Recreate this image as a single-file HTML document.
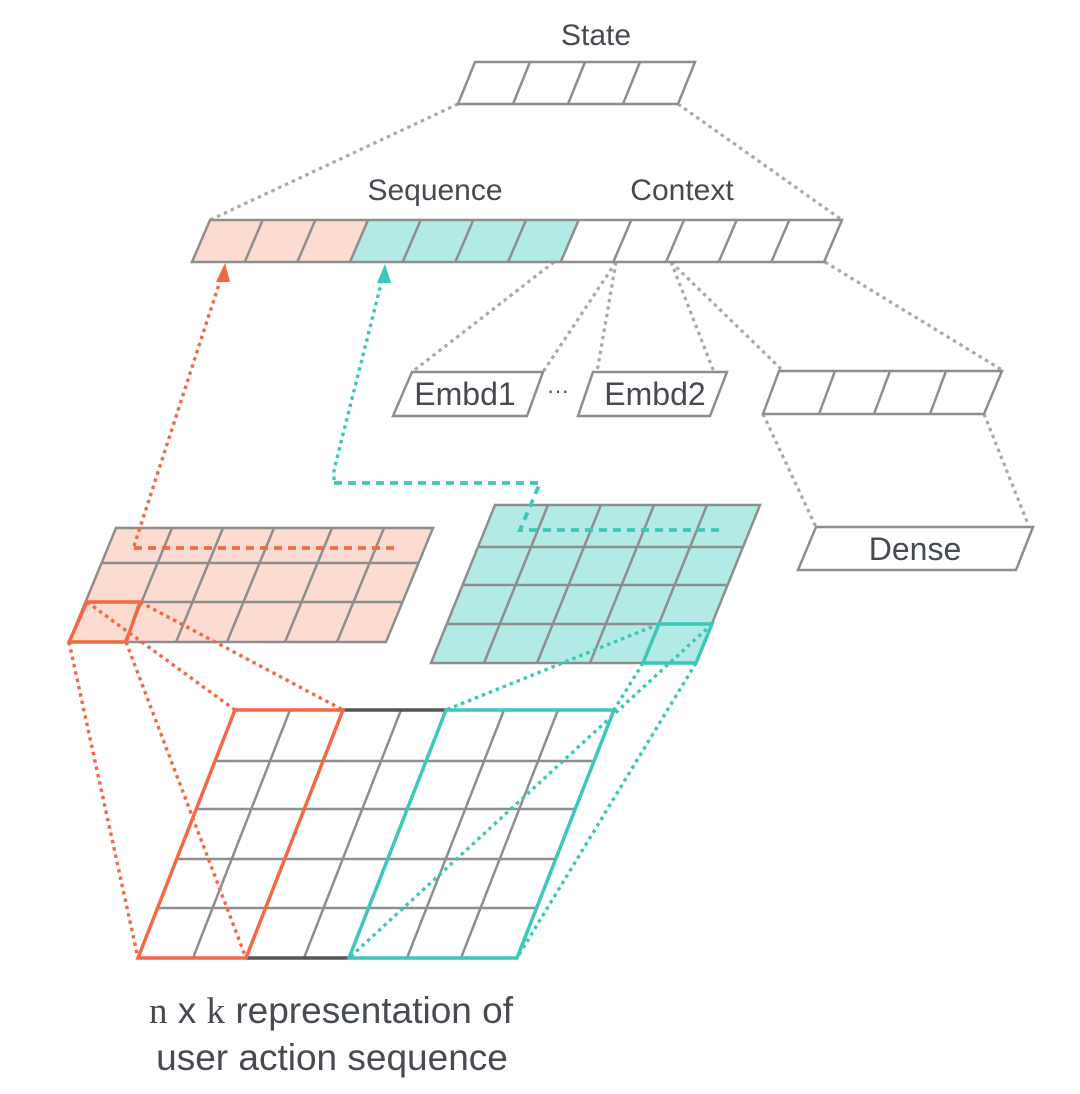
<!DOCTYPE html>
<html><head><meta charset="utf-8"><style>
html,body{margin:0;padding:0;background:#fff;}
svg{display:block;}
text{font-family:"Liberation Sans",sans-serif;fill:#464b51;}
</style></head><body>
<svg width="1080" height="1094" viewBox="0 0 1080 1094" xmlns="http://www.w3.org/2000/svg">
<g fill="none" stroke="#aaa" stroke-width="3.2" stroke-dasharray="3.5,4">
  <line x1="458" y1="104" x2="210" y2="220"/>
  <line x1="678" y1="104" x2="842" y2="220"/>
  <line x1="554" y1="262" x2="412" y2="372"/>
  <line x1="616" y1="262" x2="543" y2="372"/>
  <line x1="616" y1="262" x2="597" y2="372"/>
  <line x1="671" y1="262" x2="714" y2="372"/>
  <line x1="671" y1="262" x2="782" y2="370"/>
  <line x1="825" y1="262" x2="1002" y2="370"/>
  <line x1="763" y1="414" x2="816" y2="527"/>
  <line x1="984" y1="414" x2="1028" y2="524"/>
</g>
<text x="596" y="45" font-size="30" text-anchor="middle">State</text>
<text x="435" y="200" font-size="30" text-anchor="middle">Sequence</text>
<text x="682" y="200" font-size="30" text-anchor="middle">Context</text>
<g stroke="#8e8e8e" stroke-width="2.5" fill="none">
  <polygon points="475,62 695,62 678,104 458,104" fill="#fff"/>
  <line x1="530" y1="62" x2="513" y2="104"/><line x1="585" y1="62" x2="568" y2="104"/><line x1="640" y1="62" x2="623" y2="104"/>
  <polygon points="210,220 368,220 350,262 192,262" fill="#fcdbd0" stroke="none"/>
  <polygon points="368,220 578.7,220 560.7,262 350,262" fill="#b2ebe6" stroke="none"/>
  <polygon points="210,220 842,220 824,262 192,262"/>
  <line x1="262.7" y1="220" x2="244.7" y2="262"/><line x1="315.3" y1="220" x2="297.3" y2="262"/><line x1="368" y1="220" x2="350" y2="262"/><line x1="420.7" y1="220" x2="402.7" y2="262"/><line x1="473.3" y1="220" x2="455.3" y2="262"/><line x1="526" y1="220" x2="508" y2="262"/><line x1="578.7" y1="220" x2="560.7" y2="262"/><line x1="631.3" y1="220" x2="613.3" y2="262"/><line x1="684" y1="220" x2="666" y2="262"/><line x1="736.7" y1="220" x2="718.7" y2="262"/><line x1="789.3" y1="220" x2="771.3" y2="262"/>
  <polygon points="412,372 543,372 527,416 393,416" fill="#fff"/>
  <polygon points="593,372 727,372 710,416 578,416" fill="#fff"/>
  <polygon points="779,371 1002,371 984,414 763,414" fill="#fff"/>
  <line x1="835" y1="371" x2="819" y2="414"/><line x1="890" y1="371" x2="874" y2="414"/><line x1="946" y1="371" x2="930" y2="414"/>
  <polygon points="816,527 1033,527 1016,570 798,570" fill="#fff"/>
</g>
<text x="465" y="405" font-size="32" text-anchor="middle">Embd1</text>
<text x="558" y="398" font-size="22" text-anchor="middle">···</text>
<text x="655" y="405" font-size="32" text-anchor="middle">Embd2</text>
<text x="915" y="560" font-size="32" text-anchor="middle">Dense</text>
<g stroke="#8e8e8e" stroke-width="2.5" fill="none">
  <polygon points="116,528 433,528 386,642 69,642" fill="#fcdbd0"/>
  <line x1="101.6" y1="563" x2="418.6" y2="563"/><line x1="85.5" y1="602" x2="402.5" y2="602"/>
  <line x1="172" y1="528" x2="125" y2="642"/><line x1="223" y1="528" x2="176" y2="642"/><line x1="274" y1="528" x2="227" y2="642"/><line x1="332" y1="528" x2="285" y2="642"/><line x1="384" y1="528" x2="337" y2="642"/>
</g>
<g stroke="#8e8e8e" stroke-width="2.5" fill="none">
  <polygon points="495,505 760,505 696,663 431,663" fill="#b2ebe6"/>
  <line x1="478" y1="547" x2="743" y2="547"/><line x1="462.6" y1="585" x2="727.6" y2="585"/><line x1="446.8" y1="624" x2="711.8" y2="624"/>
  <line x1="548" y1="505" x2="484" y2="663"/><line x1="601" y1="505" x2="537" y2="663"/><line x1="654" y1="505" x2="590" y2="663"/><line x1="707" y1="505" x2="643" y2="663"/>
</g>
<g stroke="#8e8e8e" stroke-width="2.5" fill="none">
  <line x1="215" y1="761" x2="594" y2="761"/><line x1="196.3" y1="809" x2="575.3" y2="809"/><line x1="176.7" y1="859" x2="555.7" y2="859"/><line x1="157.5" y1="908" x2="536.5" y2="908"/>
  <line x1="290" y1="710" x2="193" y2="958"/><line x1="401" y1="710" x2="304" y2="958"/><line x1="504" y1="710" x2="407" y2="958"/><line x1="558" y1="710" x2="461" y2="958"/>
</g>
<g stroke="#555" stroke-width="3.5"><line x1="343" y1="710" x2="446" y2="710"/><line x1="246" y1="958" x2="349" y2="958"/></g>
<polygon points="235,710 343,710 246,958 138,958" fill="none" stroke="#f26a45" stroke-width="3.5"/>
<polygon points="446,710 614,710 517,958 349,958" fill="none" stroke="#3cc7b8" stroke-width="3.5"/>
<polygon points="87,602 140,602 126,642 69,642" fill="none" stroke="#f26a45" stroke-width="3.5"/>
<polygon points="659,624 712,624 696,663 643,663" fill="none" stroke="#3cc7b8" stroke-width="3.5"/>
<g stroke="#f26a45" stroke-width="3.4" fill="none" stroke-dasharray="3.5,4">
  <line x1="87" y1="602" x2="235" y2="710"/><line x1="140" y1="602" x2="343" y2="710"/>
  <line x1="69" y1="642" x2="138" y2="958"/><line x1="126" y1="642" x2="246" y2="958"/>
  <line x1="134" y1="546" x2="221" y2="278"/>
</g>
<line x1="134" y1="548" x2="400" y2="548" stroke="#f26a45" stroke-width="3.8" stroke-dasharray="8,6"/>
<polygon points="225,263 216,282 230,282" fill="#f26a45"/>
<g stroke="#3cc7b8" stroke-width="3.4" fill="none" stroke-dasharray="3.5,4">
  <line x1="659" y1="624" x2="446" y2="710"/><line x1="712" y1="624" x2="349" y2="958"/>
  <line x1="696" y1="663" x2="517" y2="958"/><line x1="643" y1="663" x2="614" y2="710"/>
  <polyline points="382,280 334,470 334,483"/>
</g>
<polyline points="334,483 540,483 520,530 722,530" fill="none" stroke="#3cc7b8" stroke-width="3.8" stroke-dasharray="8,6"/>
<polygon points="385,264 377,283 391,283" fill="#3cc7b8"/>
<text x="331" y="1023" font-size="37" text-anchor="middle"><tspan font-family="Liberation Serif, serif">n</tspan> x <tspan font-family="Liberation Serif, serif">k</tspan> representation of</text>
<text x="332" y="1070" font-size="37" text-anchor="middle">user action sequence</text>
</svg>
</body></html>
